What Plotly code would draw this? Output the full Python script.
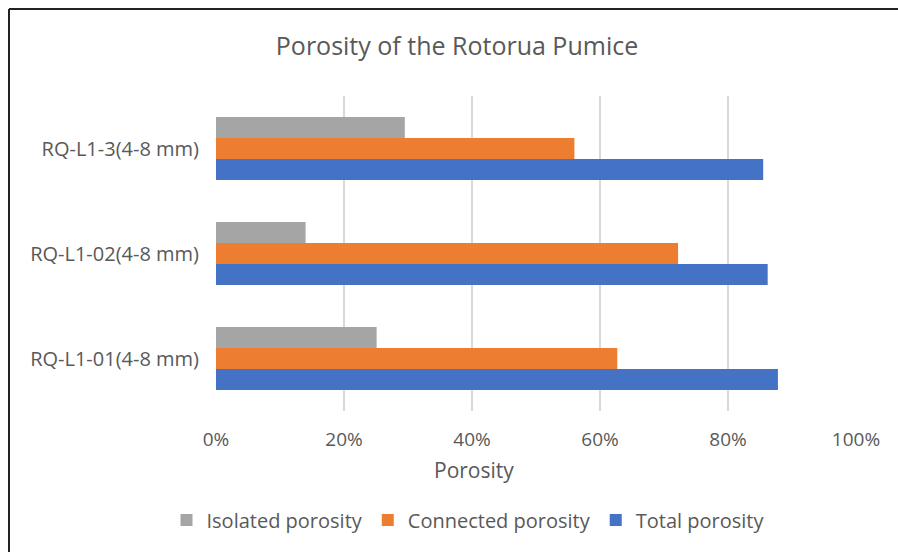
import plotly.graph_objects as go

# Porosity measurements for three pumice clasts (fraction of volume)
samples = ["RQ-L1-01(4-8 mm)", "RQ-L1-02(4-8 mm)", "RQ-L1-3(4-8 mm)"]
isolated = [0.251, 0.140, 0.295]
connected = [0.627, 0.722, 0.560]
total = [0.878, 0.862, 0.855]

series_names = ["Total porosity", "Connected porosity", "Isolated porosity"]
series_values = [total, connected, isolated]
series_colors = ["#4472C4", "#ED7D31", "#A5A5A5"]

W, H = 898, 552
L, R, T, B = 216, 42, 96, 141
pw, ph = W - L - R, H - T - B

fig = go.Figure()
for name, vals, col in zip(series_names, series_values, series_colors):
    fig.add_trace(go.Bar(
        y=samples, x=vals, name=name, orientation="h",
        marker=dict(color=col, line=dict(width=0)),
    ))

font_main = "Open Sans, sans-serif"
grey = "#595959"


def px_x(p):
    return (p - L) / pw


def px_y(p):
    return (H - B - p) / ph


fig.update_layout(
    width=W, height=H,
    margin=dict(l=L, r=R, t=T, b=B),
    paper_bgcolor="white", plot_bgcolor="white",
    barmode="group", bargap=0.4, bargroupgap=0,
    title=dict(text="Porosity of the Rotorua Pumice", x=457 / W, xanchor="center",
               y=1 - 46 / H, yanchor="middle",
               font=dict(family=font_main, size=25, color=grey)),
    xaxis=dict(range=[0, 1], tickvals=[0, 0.2, 0.4, 0.6, 0.8, 1.0],
               tickformat=".0%", showgrid=True, gridcolor="#d9d9d9", gridwidth=1.5,
               zeroline=False, showline=False, ticks="",
               ticklabelstandoff=15,
               tickfont=dict(family=font_main, size=19, color=grey)),
    yaxis=dict(showgrid=False, zeroline=False, showline=False, ticks="",
               ticklabelstandoff=16,
               tickfont=dict(family=font_main, size=20, color=grey)),
    legend=dict(orientation="h", x=px_x(468), xanchor="center", y=px_y(520), yanchor="middle",
                traceorder="reversed", itemwidth=30,
                font=dict(family=font_main, size=20, color=grey)),
    annotations=[
        # x-axis title, sitting left of the plot centre
        dict(text="Porosity", xref="paper", yref="paper",
             x=px_x(474), y=px_y(470), xanchor="center", yanchor="middle",
             showarrow=False, font=dict(family=font_main, size=21, color=grey)),
    ],
    shapes=[
        dict(type="line", xref="paper", yref="paper",
             x0=px_x(9), x1=px_x(W + 2), y0=px_y(9), y1=px_y(9),
             line=dict(color="#222222", width=2)),
        dict(type="line", xref="paper", yref="paper",
             x0=px_x(9), x1=px_x(9), y0=px_y(9), y1=px_y(H + 2),
             line=dict(color="#222222", width=2)),
    ],
)

fig.write_html("out.html")
